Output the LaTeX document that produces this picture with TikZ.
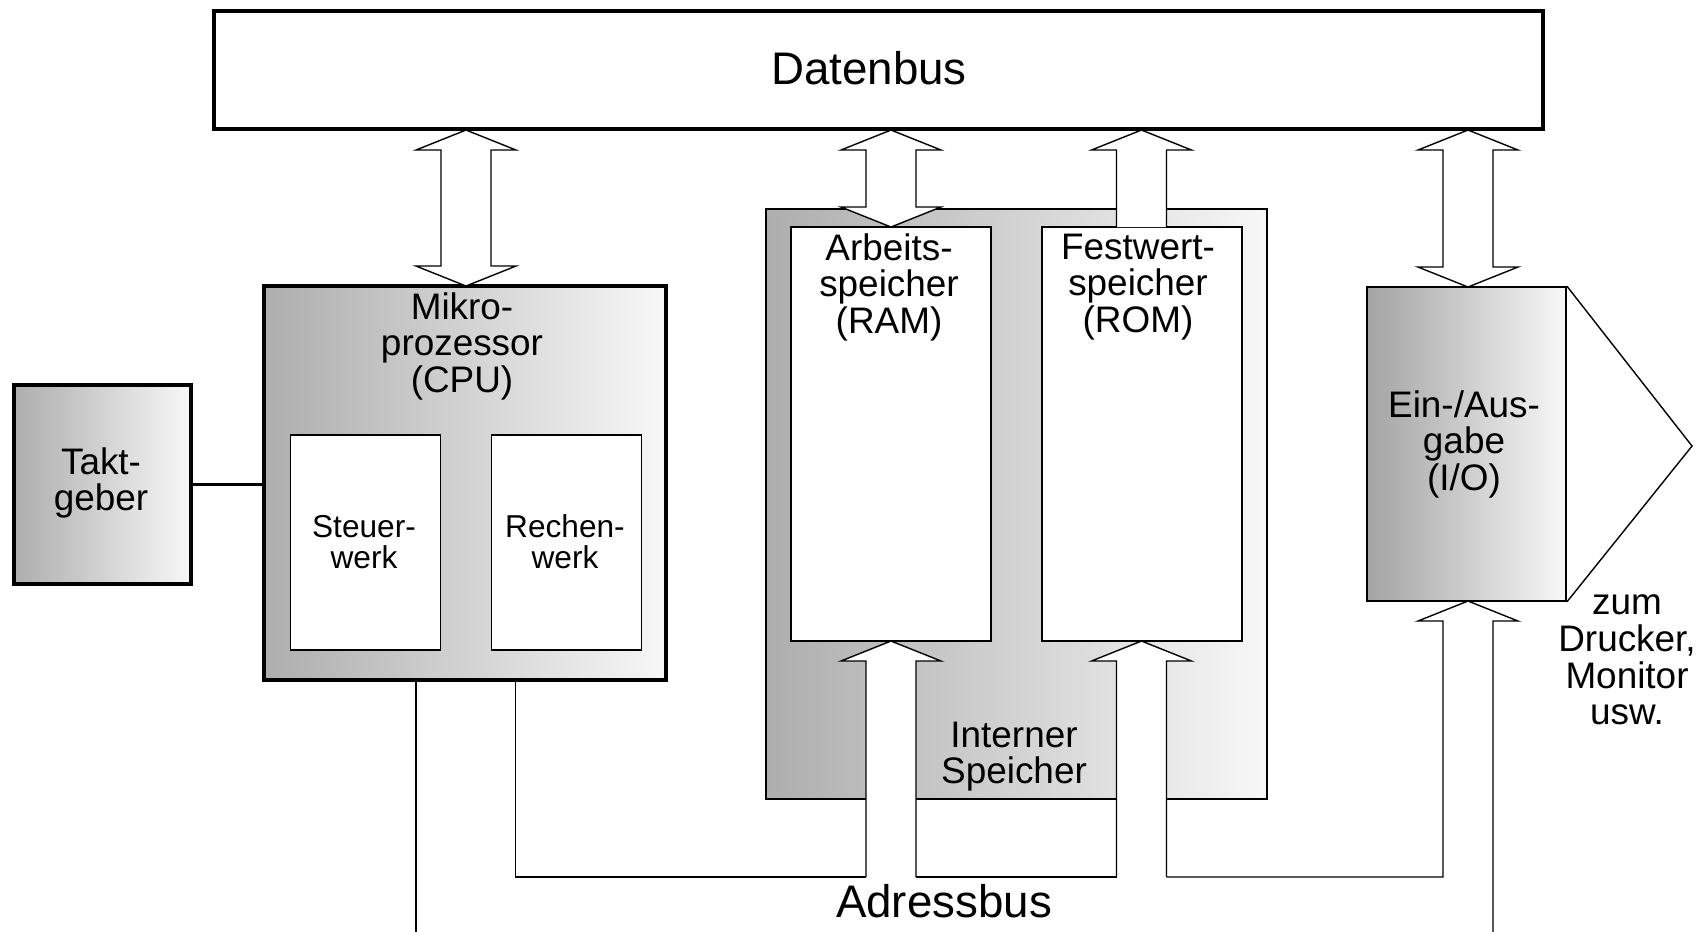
\documentclass[tikz,border=0pt]{standalone}
\usepackage{fontspec}
\setmainfont{Liberation Sans}
\usetikzlibrary{positioning}

\tikzset{
  thickbox/.style={draw, line width=1pt, inner sep=0pt},
  thinbox/.style={draw, line width=.4pt, inner sep=0pt},
  greyfade/.style={left color=black!32, right color=black!3},
  lbl/.style={align=center, inner sep=0pt, font=\fontsize{10.5}{10.4}\selectfont},
  smalllbl/.style={align=center, inner sep=0pt, font=\fontsize{9}{8.8}\selectfont},
  buslbl/.style={inner sep=0pt, font=\fontsize{13}{15}\selectfont},
  busline/.style={line width=.4pt, fill=white},
}

% hollow double arrow: x, upper tip, lower tip
\newcommand{\dualarrow}[3]{%
  \draw[busline] (#1,#2) -- (#1+.5,#2+.2) -- (#1+.25,#2+.2) -- (#1+.25,#3-.2)
    -- (#1+.5,#3-.2) -- (#1,#3) -- (#1-.5,#3-.2) -- (#1-.25,#3-.2)
    -- (#1-.25,#2+.2) -- (#1-.5,#2+.2) -- cycle;}
% hollow arrow pointing up, open at the far end: x, tip, shaft end
\newcommand{\busup}[3]{%
  \draw[busline] (#1-.25,#3) -- (#1-.25,#2+.2) -- (#1-.5,#2+.2) -- (#1,#2)
    -- (#1+.5,#2+.2) -- (#1+.25,#2+.2) -- (#1+.25,#3);}

\begin{document}
\begin{tikzpicture}[x=1cm, y=-1cm]
  \useasboundingbox (0,0) rectangle (17.04,9.31);

  % data bus
  \node[thickbox, minimum width=13.29cm, minimum height=1.18cm] (datenbus) at (8.785,.70) {};
  \node[buslbl] (datenbus-lbl) at (8.69,.685) {Datenbus};

  % clock and cpu
  \node[thickbox, greyfade, minimum width=1.77cm, minimum height=1.99cm] (takt) at (1.025,4.845) {};
  \node[lbl] (takt-lbl) at (1.01,4.83) {Takt-\\geber};
  \node[thickbox, greyfade, minimum width=4.02cm, minimum height=3.94cm] (cpu) at (4.65,4.83) {};
  \node[lbl] (cpu-lbl) at (4.62,3.46) {Mikro-\\prozessor\\(CPU)};
  \node[thinbox, fill=white, minimum width=1.5cm, minimum height=2.15cm] (steuer) at (3.655,5.425) {};
  \node[smalllbl] (steuer-lbl) at (3.64,5.42) {Steuer-\\werk};
  \node[thinbox, fill=white, minimum width=1.5cm, minimum height=2.15cm] (rechen) at (5.665,5.425) {};
  \node[smalllbl] (rechen-lbl) at (5.65,5.42) {Rechen-\\werk};
  \draw[line width=.6pt] (takt.east) -- (takt.east -| cpu.west);

  % internal memory
  \node[draw, line width=.5pt, inner sep=0pt, greyfade, minimum width=5.01cm, minimum height=5.9cm] (intern) at (10.165,5.04) {};
  \node[thinbox, fill=white, minimum width=2cm, minimum height=4.14cm] (ram) at (8.91,4.34) {};
  \node[lbl] (ram-lbl) at (8.89,2.87) {Arbeits-\\speicher\\(RAM)};
  \node[thinbox, fill=white, minimum width=2cm, minimum height=4.14cm] (rom) at (11.42,4.34) {};
  \node[lbl] (rom-lbl) at (11.38,2.87) {Festwert-\\speicher\\(ROM)};
  \node[lbl] (intern-lbl) at (10.14,7.565) {Interner\\Speicher};

  % input/output
  \node[draw, line width=.5pt, inner sep=0pt, left color=black!36, right color=black!3,
        minimum width=1.99cm, minimum height=3.14cm] (io) at (14.665,4.44) {};
  \node[lbl] (io-lbl) at (14.64,4.44) {Ein-/Aus-\\gabe\\(I/O)};
  \coordinate (io-tip) at (16.92,4.46);
  \draw[line width=.4pt] (io.north east) -- (io-tip) -- (io.south east);
  \node[lbl] (extern-lbl) at (16.27,6.60) {zum\\Drucker,\\Monitor\\usw.};

  % data bus arrows
  \dualarrow{4.66}{1.30}{2.86}
  \dualarrow{8.91}{1.30}{2.27}
  \busup{11.415}{1.30}{2.27}
  \dualarrow{14.68}{1.30}{2.87}

  % address bus
  \busup{8.91}{6.41}{8.77}
  \busup{11.415}{6.41}{8.77}
  \fill[white] (14.43,9.35) -- (14.43,6.21) -- (14.18,6.21) -- (14.68,6.01)
    -- (15.18,6.21) -- (14.93,6.21) -- (14.93,9.35) -- cycle;
  \draw[line width=.4pt] (5.155,6.80) -- (5.155,8.77) -- (8.66,8.77);
  \draw[line width=.4pt] (9.16,8.77) -- (11.165,8.77);
  \draw[line width=.4pt] (11.665,8.77) -- (14.43,8.77) -- (14.43,6.21) -- (14.18,6.21)
    -- (14.68,6.01) -- (15.18,6.21) -- (14.93,6.21) -- (14.93,9.35);
  \draw[line width=.4pt] (4.16,6.80) -- (4.16,9.35);
  \node[buslbl] (adressbus-lbl) at (9.44,9.01) {Adressbus};
\end{tikzpicture}
\end{document}
